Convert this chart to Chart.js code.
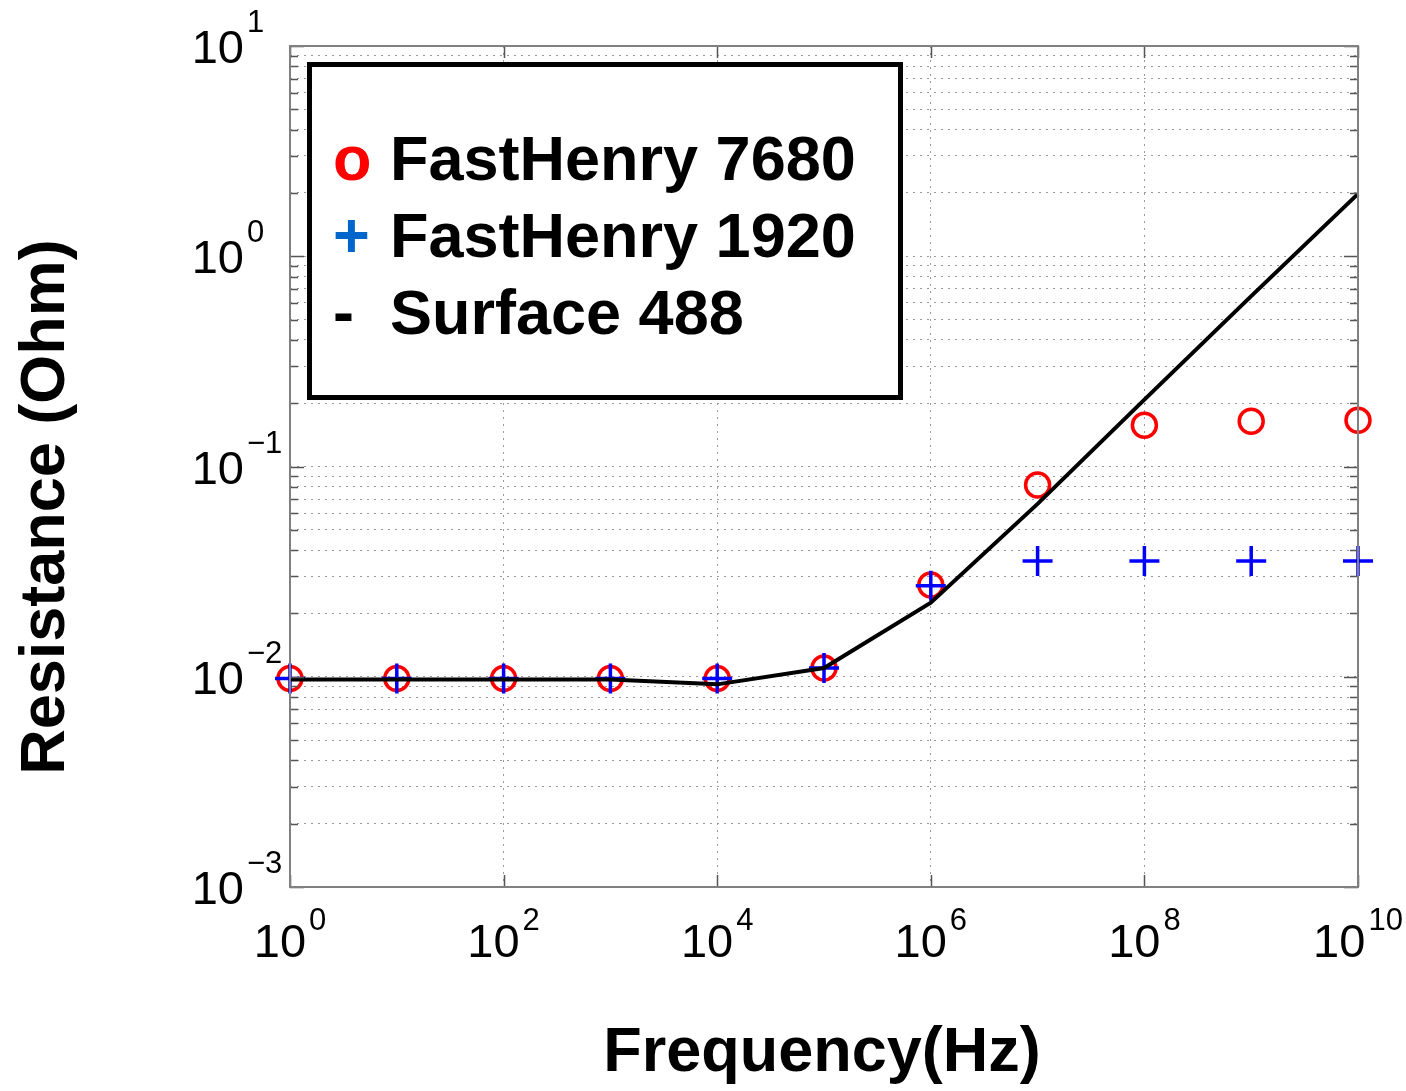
<!DOCTYPE html>
<html>
<head>
<meta charset="utf-8">
<script src="https://cdn.jsdelivr.net/npm/chart.js@4.4.1/dist/chart.umd.min.js"></script>
<style>
  html, body { margin: 0; padding: 0; background: #fff; }
  #wrap { width: 1406px; height: 1091px; position: relative; }
</style>
</head>
<body>
<div id="wrap"><canvas id="myChart"></canvas></div>
<script>
// frequency sweep, one point per decade
const frequency = [1, 1e1, 1e2, 1e3, 1e4, 1e5, 1e6, 1e7, 1e8, 1e9, 1e10];

const fastHenry7680 = [0.0098, 0.0098, 0.0098, 0.0098, 0.0098, 0.0110, 0.0273, 0.0817, 0.157, 0.164, 0.166];
const fastHenry1920 = [0.0098, 0.0098, 0.0098, 0.0098, 0.0098, 0.0110, 0.0271, 0.0355, 0.0355, 0.0355, 0.0355];
const surface488 = [0.0097, 0.0097, 0.0097, 0.0097, 0.0092, 0.0110, 0.0225, 0.0664, 0.208, 0.646, 1.98];

const seriesLabels = ['FastHenry 7680', 'FastHenry 1920', 'Surface 488'];
const legendSymbols = ['o', '+', '-'];
const legendColors = ['#ff0000', '#0066cc', '#000000'];

const xTickExponents = [0, 2, 4, 6, 8, 10];
const yTickExponents = [-3, -2, -1, 0, 1];

const FONT = '"Liberation Sans", Arial, Helvetica, sans-serif';

// y grid sits on every 1..9 x 10^n
const yGridValues = [];
for (let e = yTickExponents[0]; e < yTickExponents[yTickExponents.length - 1]; e++) {
    for (let m = 1; m <= 9; m++) {
        yGridValues.push(m * Math.pow(10, e));
    }
}
yGridValues.push(Math.pow(10, yTickExponents[yTickExponents.length - 1]));

const toPoints = (xs, ys) => xs.map((x, i) => ({ x: x, y: ys[i] }));
const supText = n => String(n).replace('-', '\u2212');

function drawPower(ctx, exp, x, baseY, expY, align) {
    ctx.font = '47px ' + FONT;
    const bw = ctx.measureText('10').width;
    ctx.font = '31px ' + FONT;
    const ew = ctx.measureText(supText(exp)).width;
    let left;
    if (align === 'center') {
        left = x - (bw + 3 + ew) / 2;
    } else {
        left = x - bw;
    }
    ctx.textAlign = 'left';
    ctx.textBaseline = 'alphabetic';
    ctx.font = '47px ' + FONT;
    ctx.fillText('10', left, baseY);
    ctx.font = '31px ' + FONT;
    ctx.fillText(supText(exp), left + bw + 3, expY);
}

const matlabFrame = {
    id: 'matlabFrame',
    afterDraw(chart) {
        const ctx = chart.ctx;
        const area = chart.chartArea;
        const xs = chart.scales.x;
        const ys = chart.scales.y;
        ctx.save();

        // tick marks pointing inward
        ctx.strokeStyle = '#555';
        ctx.lineWidth = 1.5;
        yGridValues.forEach(v => {
            const py = Math.round(ys.getPixelForValue(v)) + 0.5;
            const major = Math.abs(Math.log10(v) - Math.round(Math.log10(v))) < 1e-9;
            const len = major ? 14 : 8;
            ctx.beginPath();
            ctx.moveTo(area.left, py);
            ctx.lineTo(area.left + len, py);
            ctx.moveTo(area.right, py);
            ctx.lineTo(area.right - len, py);
            ctx.stroke();
        });
        xTickExponents.forEach(e => {
            const px = Math.round(xs.getPixelForValue(Math.pow(10, e))) + 0.5;
            ctx.beginPath();
            ctx.moveTo(px, area.bottom);
            ctx.lineTo(px, area.bottom - 12);
            ctx.moveTo(px, area.top);
            ctx.lineTo(px, area.top + 12);
            ctx.stroke();
        });

        // axes box
        ctx.strokeStyle = '#808080';
        ctx.lineWidth = 2;
        ctx.strokeRect(area.left, area.top, area.right - area.left, area.bottom - area.top);

        // tick labels
        ctx.fillStyle = '#000';
        yTickExponents.forEach(e => {
            const py = ys.getPixelForValue(Math.pow(10, e));
            drawPower(ctx, e, 244, py + 17, py - 14, 'right');
        });
        xTickExponents.forEach(e => {
            const px = xs.getPixelForValue(Math.pow(10, e));
            drawPower(ctx, e, px, area.bottom + 70, area.bottom + 43, 'center');
        });

        // axis titles
        ctx.font = 'bold 63px ' + FONT;
        ctx.textAlign = 'center';
        ctx.textBaseline = 'alphabetic';
        ctx.fillText('Frequency(Hz)', 822, 1071);
        ctx.save();
        ctx.translate(64, 507);
        ctx.rotate(-Math.PI / 2);
        ctx.fillText('Resistance (Ohm)', 0, 0);
        ctx.restore();

        // legend box
        ctx.fillStyle = '#fff';
        ctx.fillRect(309, 64, 592, 334);
        ctx.strokeStyle = '#000';
        ctx.lineWidth = 5;
        ctx.strokeRect(309.5, 64.5, 591, 333);
        ctx.font = 'bold 63px ' + FONT;
        ctx.textAlign = 'left';
        chart.data.datasets.forEach((ds, i) => {
            const base = 180 + i * 77;
            ctx.fillStyle = legendColors[i];
            ctx.fillText(legendSymbols[i], 333, base);
            ctx.fillStyle = '#000';
            ctx.fillText(ds.label, 390, base);
        });

        ctx.restore();
    }
};

const gridOpts = {
    color: '#9a9a9a',
    lineWidth: 1,
    drawTicks: false
};

const config = {
    type: 'scatter',
    data: {
        datasets: [{
            label: seriesLabels[0],
            data: toPoints(frequency, fastHenry7680),
            pointStyle: 'circle',
            pointRadius: 12,
            borderColor: '#ff0000',
            backgroundColor: 'rgba(0,0,0,0)',
            pointBorderWidth: 3.5,
            order: 2,
            clip: false
        }, {
            label: seriesLabels[1],
            data: toPoints(frequency, fastHenry1920),
            pointStyle: 'cross',
            pointRadius: 15,
            borderColor: '#0000ff',
            backgroundColor: '#0000ff',
            pointBorderWidth: 3.5,
            order: 1,
            clip: false
        }, {
            label: seriesLabels[2],
            data: toPoints(frequency, surface488),
            showLine: true,
            borderColor: '#000',
            borderWidth: 4,
            pointRadius: 0,
            order: 0,
            clip: false
        }]
    },
    options: {
        responsive: true,
        maintainAspectRatio: false,
        animation: false,
        layout: { padding: { left: 290, right: 48, top: 46, bottom: 204 } },
        plugins: {
            legend: { display: false },
            tooltip: { enabled: false }
        },
        scales: {
            x: {
                type: 'logarithmic',
                min: 1,
                max: 1e10,
                grid: gridOpts,
                border: { display: false, dash: [2, 5] },
                ticks: { display: false },
                afterBuildTicks: scale => {
                    scale.ticks = xTickExponents.map(e => ({ value: Math.pow(10, e) }));
                },
                afterFit: scale => { scale.height = 0; }
            },
            y: {
                type: 'logarithmic',
                min: 1e-3,
                max: 10,
                grid: gridOpts,
                border: { display: false, dash: [2, 5] },
                ticks: { display: false },
                afterBuildTicks: scale => {
                    scale.ticks = yGridValues.map(v => ({ value: v }));
                },
                afterFit: scale => { scale.width = 0; }
            }
        }
    },
    plugins: [matlabFrame]
};

const myChart = new Chart(document.getElementById('myChart'), config);
</script>
</body>
</html>
